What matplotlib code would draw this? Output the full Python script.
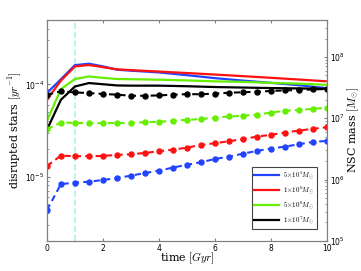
import matplotlib
matplotlib.use('Agg')
import matplotlib.pyplot as plt
from matplotlib.lines import Line2D

plt.rcParams['mathtext.fontset'] = 'cm'

# time grid (Gyr)
t_rate = [0, 0.5, 1, 1.5, 2, 2.5, 3, 4, 5, 6, 7, 8, 9, 10]
t_mass = [0, 0.5, 1, 1.5, 2, 2.5, 3, 3.5, 4, 4.5, 5, 5.5, 6, 6.5, 7, 7.5, 8, 8.5, 9, 9.5, 10]

# disrupted stars rate [1/yr] (left axis)
rate_5e5 = [8.06e-5, 1.14e-4, 1.62e-4, 1.68e-4, 1.57e-4, 1.445e-4, 1.41e-4, 1.35e-4,
            1.26e-4, 1.17e-4, 1.10e-4, 1.04e-4, 9.8e-5, 9.1e-5]
rate_1e6 = [6.82e-5, 1.10e-4, 1.57e-4, 1.625e-4, 1.54e-4, 1.46e-4, 1.43e-4, 1.38e-4,
            1.33e-4, 1.28e-4, 1.23e-4, 1.18e-4, 1.13e-4, 1.08e-4]
rate_5e6 = [4.03e-5, 8.9e-5, 1.145e-4, 1.22e-4, 1.18e-4, 1.145e-4, 1.14e-4, 1.125e-4,
            1.105e-4, 1.08e-4, 1.065e-4, 1.04e-4, 1.02e-4, 9.9e-5]
rate_1e7 = [3.22e-5, 6.82e-5, 9.5e-5, 1.035e-4, 1.005e-4, 9.75e-5, 9.7e-5, 9.7e-5,
            9.56e-5, 9.37e-5, 9.25e-5, 9.13e-5, 9.05e-5, 8.98e-5]

# NSC mass [Msun] (right axis)
mass_5e5 = [3.17e5, 8.47e5, 8.9e5, 9.24e5, 9.85e5, 1.06e6, 1.16e6, 1.28e6, 1.40e6, 1.57e6,
            1.75e6, 1.92e6, 2.17e6, 2.37e6, 2.65e6, 2.94e6, 3.21e6, 3.45e6, 3.78e6, 4.12e6, 4.28e6]
mass_1e6 = [1.67e6, 2.46e6, 2.41e6, 2.41e6, 2.43e6, 2.53e6, 2.59e6, 2.72e6, 2.90e6, 3.08e6,
            3.32e6, 3.68e6, 3.92e6, 4.23e6, 4.57e6, 5.04e6, 5.37e6, 5.86e6, 6.31e6, 6.73e6, 7.17e6]
mass_5e6 = [6.65e6, 8.53e6, 8.43e6, 8.34e6, 8.34e6, 8.37e6, 8.34e6, 8.67e6, 8.77e6, 9.1e6,
            9.45e6, 9.7e6, 1.02e7, 1.07e7, 1.10e7, 1.15e7, 1.24e7, 1.33e7, 1.36e7, 1.43e7, 1.49e7]
mass_1e7 = [2.43e7, 2.75e7, 2.64e7, 2.58e7, 2.49e7, 2.43e7, 2.33e7, 2.33e7, 2.36e7, 2.43e7,
            2.47e7, 2.47e7, 2.52e7, 2.61e7, 2.66e7, 2.71e7, 2.79e7, 2.85e7, 2.90e7, 2.95e7, 3.01e7]

labels = [r'$5{\times}10^5M_{\odot}$', r'$1{\times}10^6M_{\odot}$',
          r'$5{\times}10^6M_{\odot}$', r'$1{\times}10^7M_{\odot}$']
colors = ['#2244ff', '#ff1111', '#66ee00', 'black']

rates = [rate_5e5, rate_1e6, rate_5e6, rate_1e7]
masses = [mass_5e5, mass_1e6, mass_5e6, mass_1e7]

fig = plt.figure(figsize=(3.61, 2.71), dpi=100)
ax = fig.add_axes([0.130, 0.111, 0.776, 0.815])
ax2 = ax.twinx()

for r, c in zip(rates, colors):
    ax.plot(t_rate, r, '-', color=c, lw=1.6)
ax.axvline(1, color='#aaf2e6', ls='--', lw=1.2, zorder=0)

for m, c in zip(masses, colors):
    ax2.plot(t_mass, m, '--', color=c, lw=1.5, marker='o', ms=3.6, dashes=(3, 2))

ax.set_yscale('log')
ax2.set_yscale('log')
ax.set_xlim(0, 10)
ax.set_ylim(2e-6, 5e-4)
ax2.set_ylim(1e5, 4e8)
ax.set_xticks([0, 2, 4, 6, 8, 10])

for a in (ax, ax2):
    for s in a.spines.values():
        s.set_color('#7f7f7f')
    a.tick_params(which='both', direction='in', labelsize=5.5, color='#7f7f7f',
                  length=2.5, pad=2)
    a.tick_params(which='minor', length=1.5)
ax.tick_params(top=True)

ax.set_xlabel(r'time $[Gyr]$', fontsize=8, family='serif')
ax.set_ylabel(r'disrupted stars $[yr^{-1}]$', fontsize=8, family='serif')
ax2.set_ylabel(r'NSC mass $[M_{\odot}]$', fontsize=8, family='serif')
ax.xaxis.set_label_coords(0.5, -0.045)
ax.yaxis.set_label_coords(-0.082, 0.5)
ax2.yaxis.set_label_coords(1.066, 0.5)

handles = [Line2D([], [], color=c, lw=1.6) for c in colors]
leg = ax2.legend(handles, labels, loc='lower right', fontsize=5, fancybox=False,
                 edgecolor='#444444', framealpha=1, handlelength=3.5,
                 borderpad=0.4, labelspacing=0.45, handletextpad=0.6,
                 borderaxespad=0, bbox_to_anchor=(0.964, 0.054))
leg.get_frame().set_linewidth(0.8)

fig.savefig('out.png', dpi=100)
